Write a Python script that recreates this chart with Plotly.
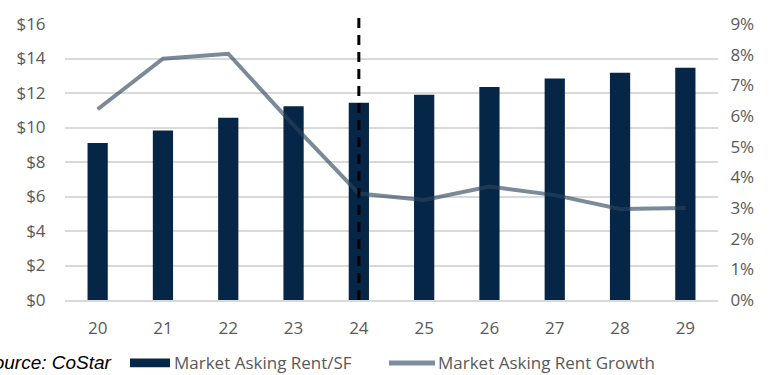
import plotly.graph_objects as go

years = [20, 21, 22, 23, 24, 25, 26, 27, 28, 29]
rent_sf = [9.10, 9.83, 10.56, 11.23, 11.43, 11.90, 12.35, 12.84, 13.18, 13.46]
rent_growth = [6.22, 7.87, 8.03, 5.70, 3.47, 3.26, 3.70, 3.42, 2.97, 3.00]
left_ticks = [0, 2, 4, 6, 8, 10, 12, 14, 16]
left_labels = ["$" + str(v) for v in left_ticks]
right_ticks = list(range(0, 10))
right_labels = [str(v) + "%" for v in right_ticks]
forecast_start = 24

BAR_COLOR = "#062648"
LINE_COLOR = "rgb(44,68,92)"
LINE_SWATCH = "rgb(122,142,160)"
TEXT_GRAY = "#595959"
FONT = "Open Sans"
FS = 17

fig = go.Figure()
fig.add_trace(go.Bar(
    x=years, y=rent_sf, name="Market Asking Rent/SF",
    marker=dict(color=BAR_COLOR, line=dict(width=0)),
    width=0.31, yaxis="y", showlegend=False,
))
fig.add_trace(go.Scatter(
    x=years, y=rent_growth, name="Market Asking Rent Growth",
    mode="lines", line=dict(color=LINE_COLOR, width=4),
    opacity=0.62, yaxis="y2", showlegend=False,
))

fig.add_shape(type="line", xref="x", yref="paper",
              x0=forecast_start, x1=forecast_start, y0=0, y1=1.025,
              line=dict(color="black", width=3, dash="10px,7px"))

# legend (drawn below the plot)
LEG_Y = -0.2280
fig.add_shape(type="rect", xref="paper", yref="paper",
              x0=0.0995, x1=0.1608, y0=LEG_Y - 0.0158, y1=LEG_Y + 0.0158,
              fillcolor=BAR_COLOR, line=dict(width=0))
fig.add_shape(type="line", xref="paper", yref="paper",
              x0=0.4962, x1=0.5666, y0=LEG_Y, y1=LEG_Y,
              line=dict(color=LINE_SWATCH, width=5))
fig.add_annotation(xref="paper", yref="paper", x=0.1640, y=LEG_Y,
                   xanchor="left", yanchor="middle", showarrow=False,
                   text="Market Asking Rent/SF",
                   font=dict(family=FONT, size=FS, color=TEXT_GRAY))
fig.add_annotation(xref="paper", yref="paper", x=0.5680, y=LEG_Y,
                   xanchor="left", yanchor="middle", showarrow=False,
                   text="Market Asking Rent Growth",
                   font=dict(family=FONT, size=FS, color=TEXT_GRAY))
fig.add_annotation(xref="paper", yref="paper", x=0.0755, y=LEG_Y,
                   xanchor="right", yanchor="middle", showarrow=False,
                   text="<i>Source: CoStar</i>",
                   font=dict(family="Liberation Sans", size=19, color="black"))

fig.update_layout(
    width=772, height=375,
    margin=dict(l=65, r=54, t=15, b=75),
    paper_bgcolor="white", plot_bgcolor="white",
    font=dict(family=FONT, size=FS, color=TEXT_GRAY),
    xaxis=dict(range=[19.5, 29.5], tickvals=years,
               ticktext=[str(y) for y in years],
               showgrid=False, zeroline=False,
               showline=True, linecolor="#d9d9d9", linewidth=1.5,
               ticks="outside", ticklen=12, tickcolor="rgba(0,0,0,0)",
               tickfont=dict(family=FONT, size=FS, color=TEXT_GRAY)),
    yaxis=dict(range=[0, 16], tickvals=left_ticks, ticktext=left_labels,
               showgrid=True, gridcolor="#d9d9d9", gridwidth=1.5,
               zeroline=False, showline=False,
               ticks="outside", ticklen=15, tickcolor="rgba(0,0,0,0)",
               tickfont=dict(family=FONT, size=FS, color=TEXT_GRAY)),
    yaxis2=dict(range=[0, 9], tickvals=right_ticks, ticktext=right_labels,
                overlaying="y", side="right", showgrid=False,
                zeroline=False, showline=False,
                ticks="outside", ticklen=8, tickcolor="rgba(0,0,0,0)",
                tickfont=dict(family=FONT, size=FS, color=TEXT_GRAY)),
)

fig.write_html("out.html")
